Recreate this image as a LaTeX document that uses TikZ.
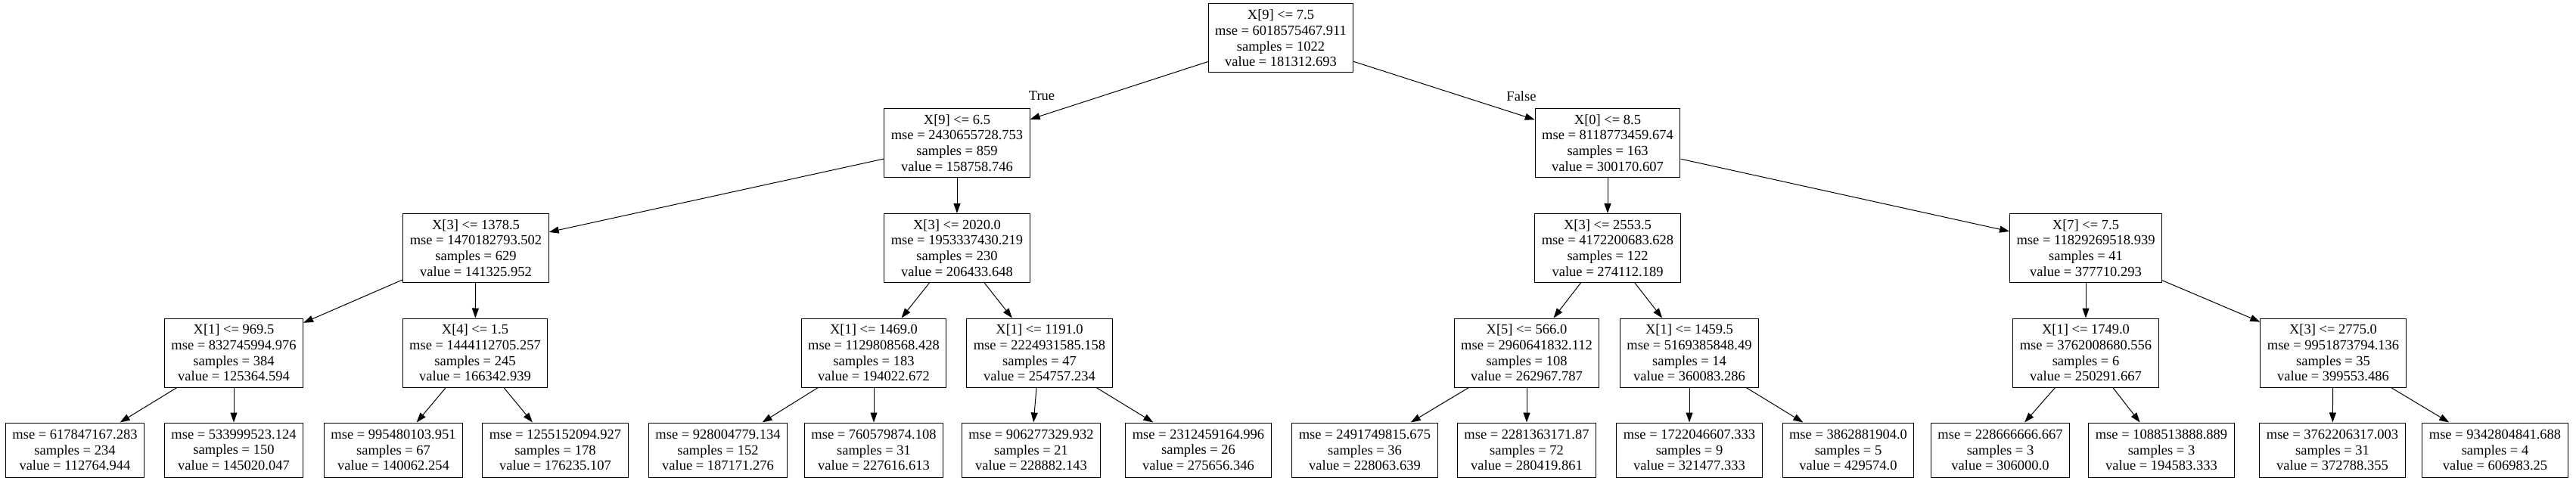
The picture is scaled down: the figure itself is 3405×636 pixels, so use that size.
\documentclass[tikz,border=0pt]{standalone}
\usepackage{fontspec}
\setmainfont{Liberation Serif}
\usetikzlibrary{arrows.meta}

\begin{document}
\begin{tikzpicture}[
    x=1pt, y=-1pt,
    splitbox/.style={rectangle, draw=black, line width=1pt, fill=white,
                     align=center, minimum height=91pt, inner xsep=9pt,
                     inner ysep=3pt, font=\fontsize{18.5}{20.7}\selectfont},
    leafbox/.style={splitbox, minimum height=72pt},
    branch/.style={font=\fontsize{18.5}{20.7}\selectfont, inner sep=0pt},
    edge/.style={draw, line width=1pt, -{Triangle[length=13pt,width=9pt]}}
]
\useasboundingbox (0,0) rectangle (3405,636);

% depth 0 and 1
\node[splitbox] (n0) at (1693,50.5) {X[9] <= 7.5\\mse = 6018575467.911\\samples = 1022\\value = 181312.693};
\node[splitbox] (n1) at (1265,189) {X[9] <= 6.5\\mse = 2430655728.753\\samples = 859\\value = 158758.746};
\node[splitbox] (n16) at (2125,189) {X[0] <= 8.5\\mse = 8118773459.674\\samples = 163\\value = 300170.607};

% depth 2
\node[splitbox] (n2) at (629,328) {X[3] <= 1378.5\\mse = 1470182793.502\\samples = 629\\value = 141325.952};
\node[splitbox] (n9) at (1265,328) {X[3] <= 2020.0\\mse = 1953337430.219\\samples = 230\\value = 206433.648};
\node[splitbox] (n17) at (2125,328) {X[3] <= 2553.5\\mse = 4172200683.628\\samples = 122\\value = 274112.189};
\node[splitbox] (n24) at (2757,328) {X[7] <= 7.5\\mse = 11829269518.939\\samples = 41\\value = 377710.293};

% depth 3
\node[splitbox] (n3) at (309,466.5) {X[1] <= 969.5\\mse = 832745994.976\\samples = 384\\value = 125364.594};
\node[splitbox] (n6) at (628,466.5) {X[4] <= 1.5\\mse = 1444112705.257\\samples = 245\\value = 166342.939};
\node[splitbox] (n10) at (1155,466.5) {X[1] <= 1469.0\\mse = 1129808568.428\\samples = 183\\value = 194022.672};
\node[splitbox] (n13) at (1374,466.5) {X[1] <= 1191.0\\mse = 2224931585.158\\samples = 47\\value = 254757.234};
\node[splitbox] (n18) at (2018,466.5) {X[5] <= 566.0\\mse = 2960641832.112\\samples = 108\\value = 262967.787};
\node[splitbox] (n21) at (2233,466.5) {X[1] <= 1459.5\\mse = 5169385848.49\\samples = 14\\value = 360083.286};
\node[splitbox] (n25) at (2757,466.5) {X[1] <= 1749.0\\mse = 3762008680.556\\samples = 6\\value = 250291.667};
\node[splitbox] (n28) at (3084,466.5) {X[3] <= 2775.0\\mse = 9951873794.136\\samples = 35\\value = 399553.486};

% leaves
\node[leafbox] (n4) at (99,595) {mse = 617847167.283\\samples = 234\\value = 112764.944};
\node[leafbox] (n5) at (309,595) {mse = 533999523.124\\samples = 150\\value = 145020.047};
\node[leafbox] (n7) at (520,595) {mse = 995480103.951\\samples = 67\\value = 140062.254};
\node[leafbox] (n8) at (734,595) {mse = 1255152094.927\\samples = 178\\value = 176235.107};
\node[leafbox] (n11) at (949,595) {mse = 928004779.134\\samples = 152\\value = 187171.276};
\node[leafbox] (n12) at (1155,595) {mse = 760579874.108\\samples = 31\\value = 227616.613};
\node[leafbox] (n14) at (1363,595) {mse = 906277329.932\\samples = 21\\value = 228882.143};
\node[leafbox] (n15) at (1584,595) {mse = 2312459164.996\\samples = 26\\value = 275656.346};
\node[leafbox] (n19) at (1804,595) {mse = 2491749815.675\\samples = 36\\value = 228063.639};
\node[leafbox] (n20) at (2018,595) {mse = 2281363171.87\\samples = 72\\value = 280419.861};
\node[leafbox] (n22) at (2233,595) {mse = 1722046607.333\\samples = 9\\value = 321477.333};
\node[leafbox] (n23) at (2443,595) {mse = 3862881904.0\\samples = 5\\value = 429574.0};
\node[leafbox] (n26) at (2644,595) {mse = 228666666.667\\samples = 3\\value = 306000.0};
\node[leafbox] (n27) at (2857,595) {mse = 1088513888.889\\samples = 3\\value = 194583.333};
\node[leafbox] (n29) at (3083,595) {mse = 3762206317.003\\samples = 31\\value = 372788.355};
\node[leafbox] (n30) at (3298,595) {mse = 9342804841.688\\samples = 4\\value = 606983.25};

% edges
\foreach \a/\b in {n0/n1, n0/n16, n1/n2, n1/n9, n2/n3, n2/n6, n3/n4, n3/n5,
                   n6/n7, n6/n8, n9/n10, n9/n13, n10/n11, n10/n12, n13/n14, n13/n15,
                   n16/n17, n16/n24, n17/n18, n17/n21, n18/n19, n18/n20, n21/n22, n21/n23,
                   n24/n25, n24/n28, n25/n26, n25/n27, n28/n29, n28/n30}
    \draw[edge] (\a) -- (\b);

\node[branch] (lbltrue) at (1377,127) {True};
\node[branch] (lblfalse) at (2011,127) {False};
\end{tikzpicture}
\end{document}
